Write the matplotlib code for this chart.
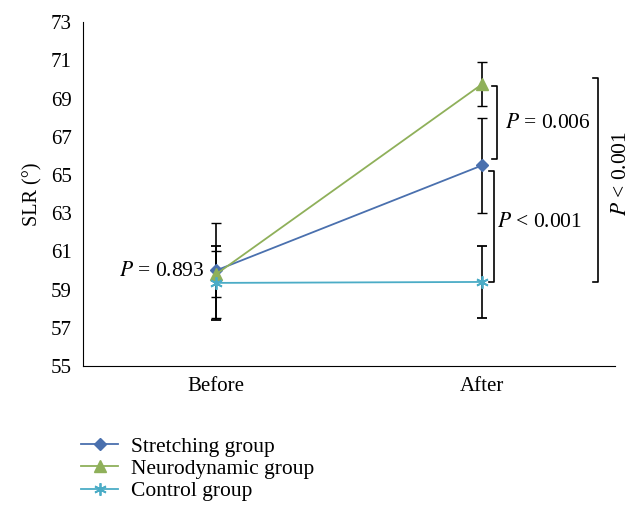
import matplotlib.pyplot as plt
from matplotlib.lines import Line2D

plt.rcParams['font.family'] = ['Liberation Serif', 'DejaVu Serif']

times = ["Before", "After"]
stretching = [60.0, 65.5]
stretching_err = [2.5, 2.5]
neuro = [59.8, 69.75]
neuro_err = [1.2, 1.15]
control = [59.35, 59.4]
control_err = [1.95, 1.9]
yticks = [55, 57, 59, 61, 63, 65, 67, 69, 71, 73]

fig = plt.figure(figsize=(6.36, 5.27), dpi=100)
ax = fig.add_axes([0.1305, 0.3055, 0.8365, 0.6525])

x = [0.5, 1.5]
star = (6, 2, 0)
series = [
    ("Stretching group", stretching, stretching_err, "#4A70AE", "D", 6),
    ("Neurodynamic group", neuro, neuro_err, "#8FB05A", "^", 8),
    ("Control group", control, control_err, "#4BACC6", star, 9),
]
for name, vals, errs, col, mk, ms in series:
    ax.errorbar(x, vals, yerr=errs, color=col, marker=mk, markersize=ms,
                lw=1.3, ecolor="black", elinewidth=1.2, capsize=3.5, capthick=1.2,
                label=name, mew=1.3 if mk == star else 1)

ax.set_xlim(0, 2)
ax.set_ylim(55, 73)
ax.set_yticks(yticks)
ax.set_xticks(x)
ax.set_xticklabels(times)
ax.tick_params(length=0, labelsize=15, pad=8)
for s in ["top", "right"]:
    ax.spines[s].set_visible(False)
ax.set_ylabel("SLR (°)", fontsize=14.5, labelpad=6)


def bracket(xv, y0, y1, d=0.019):
    ax.plot([xv - d, xv, xv, xv - d], [y0, y0, y1, y1], color="black",
            lw=1.2, clip_on=False)


bracket(1.557, 65.83, 69.65)
bracket(1.546, 59.4, 65.2)
bracket(1.936, 59.4, 70.07)

kw = dict(fontsize=15.5, math_fontfamily="stix")
ax.text(1.585, 67.7, "$P$ = 0.006", va="center", ha="left", **kw)
ax.text(1.555, 62.5, "$P$ < 0.001", va="center", ha="left", **kw)
ax.text(2.025, 65.1, "$P$ < 0.001", va="center", ha="center",
        rotation=90, clip_on=False, **kw)
ax.text(0.457, 59.95, "$P$ = 0.893", va="center", ha="right", **kw)

labels = [s[0] for s in series]
h2 = [Line2D([], [], color=c, marker=m, markersize=ms, lw=1.3,
             mew=1.3 if m == star else 1) for _, _, _, c, m, ms in series]
fig.legend(h2, labels, loc="upper left", bbox_to_anchor=(0.114, 0.188),
           frameon=False, fontsize=15.5, handlelength=1.72, labelspacing=0.1,
           handletextpad=0.6, borderaxespad=0)

fig.savefig("out.png", dpi=100)
